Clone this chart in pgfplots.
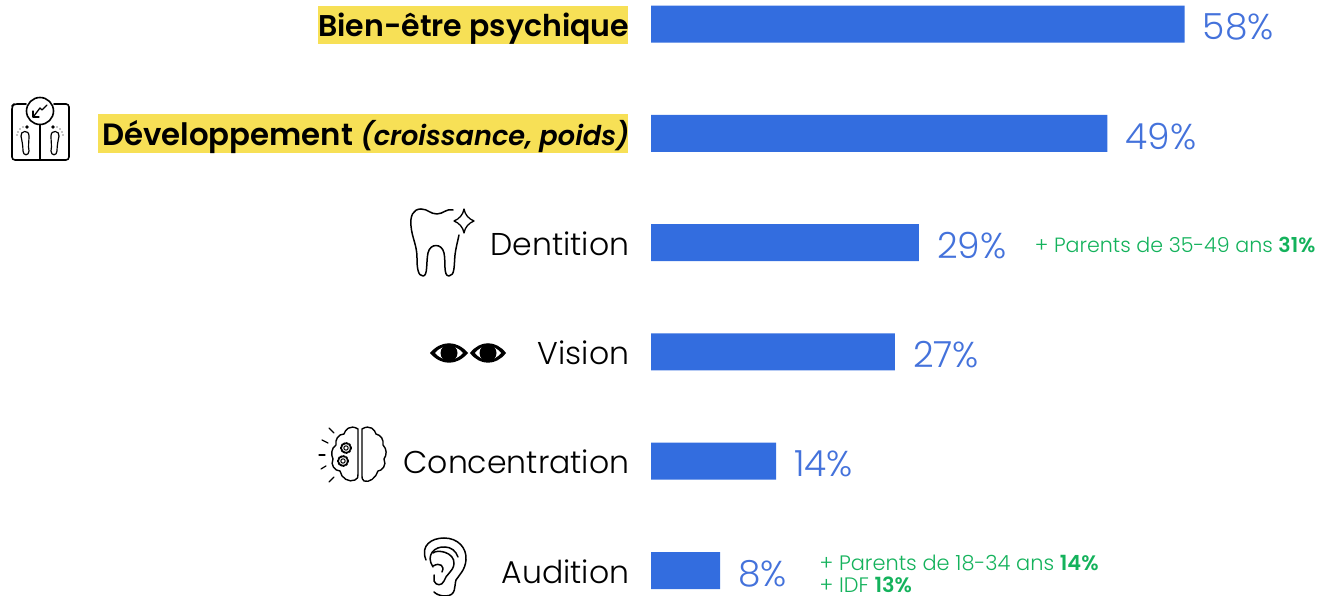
\documentclass[border=0pt]{standalone}
\usepackage{pgfplots}
\usepackage{pgfplotstable}
\usepackage{fontspec}
\pgfplotsset{compat=1.18}
\setmainfont{Poppins Light}[BoldFont={Poppins SemiBold},ItalicFont={Poppins Light Italic},BoldItalicFont={Poppins SemiBold Italic}]
\definecolor{barblue}{HTML}{336DDF}
\definecolor{valblue}{HTML}{4472DB}
\definecolor{hl}{HTML}{F7E056}
\definecolor{grn}{HTML}{14B25C}
\pgfplotstableread{
y x lab
0 58.0 58\%
1 49.6 49\%
2 29.1 29\%
3 26.5 27\%
4 13.6 14\%
5 7.5 8\%
}\bars
\begin{document}
\begin{tikzpicture}[x=1pt,y=1pt]
\useasboundingbox (0,0) rectangle (1319,596);
\begin{scope}[shift={(0,596)},y=-1pt]
\fill[hl] (318,6) rectangle (628,44);
\fill[hl] (98,114) rectangle (628,153);
\end{scope}
\begin{axis}[
  at={(0,0)},anchor=south west,
  scale only axis,width=1319pt,height=596pt,
  xmin=-70.76,xmax=72.6,
  ymin=-0.22,ymax=5.233,y dir=reverse,
  xbar,bar shift=0pt,bar width=37pt,
  axis line style={draw=none},
  xtick=\empty,
  ytick={0,1,2,3,4,5},
  yticklabels={{\fontsize{30}{36}\selectfont\bfseries Bien-être psychique},{\bfseries\fontsize{30.8}{36}\selectfont Développement {\fontsize{27.2}{30}\selectfont\itshape (croissance, poids)}},Dentition,Vision,Concentration,Audition},
  major tick length=0pt,
  y tick style={draw=none},
  yticklabel style={anchor=base east,inner sep=0pt,xshift=629.5pt,yshift=-12.5pt,font=\fontsize{31.5}{36}\selectfont},
  clip=false,
  nodes near coords,
  point meta=explicit symbolic,
  every node near coord/.append style={anchor=west,inner sep=0pt,xshift=18pt,yshift=-3pt,text=valblue,font=\fontsize{36}{42}\selectfont},
]
\addplot[fill=barblue,draw=none] table[x=x,y=y,meta=lab] {\bars};
\node[anchor=west,inner sep=0pt,text=grn,font=\fontsize{20.6}{24}\selectfont] at (axis cs:41.7,2.02) {+ Parents de 35-49 ans \textbf{31\%}};
\node[anchor=west,inner sep=0pt,text=grn,font=\fontsize{20.9}{24}\selectfont] at (axis cs:18.3,4.935) {+ Parents de 18-34 ans \textbf{14\%}};
\node[anchor=west,inner sep=0pt,text=grn,font=\fontsize{20.9}{24}\selectfont] at (axis cs:18.3,5.135) {+ IDF \textbf{13\%}};
\end{axis}
\begin{scope}[shift={(0,596)},y=-1pt,line cap=round,line join=round]
% scale
\draw[line width=1.6pt,rounded corners=3pt] (26,104) -- (14,104) -- (12,106) -- (12,160) -- (69,160) -- (69,104) -- (54,104);
\draw[line width=1.6pt,fill=white] (40,111) circle (13.5);
\draw[line width=1.6pt] (40,124.5) -- (40,160);
\draw[line width=1.3pt] (47,105) -- (42,110) -- (40,108) -- (34,116);
\draw[line width=1.3pt] (33,111) -- (33,117) -- (39,117);
\draw[line width=1.2pt] (21,136) .. controls (20,131) and (29,129) .. (29,136) .. controls (29,142) and (28,146) .. (29,151) .. controls (29,156) and (23,156) .. (23,151) .. controls (23,146) and (22,141) .. (21,136) -- cycle;
\draw[line width=1.2pt] (59,136) .. controls (60,131) and (51,129) .. (51,136) .. controls (51,142) and (52,146) .. (51,151) .. controls (51,156) and (57,156) .. (57,151) .. controls (57,146) and (58,141) .. (59,136) -- cycle;
\fill (27,127) circle (1.8);\fill (53,127) circle (1.8);
\foreach \p in {(23,127),(20,129),(18,132),(17,135),(57,127),(60,129),(62,132),(63,135)} \fill \p circle (0.7);
% tooth
\draw[line width=1.5pt] (421,209) .. controls (413,209) and (410,216) .. (411,226)
  .. controls (412,238) and (417,245) .. (417,258)
  .. controls (417,268) and (418,276) .. (423,276)
  .. controls (428,276) and (426,262) .. (428,253)
  .. controls (430,243) and (442,243) .. (444,253)
  .. controls (446,262) and (443,276) .. (449,276)
  .. controls (455,276) and (454,265) .. (455,255)
  .. controls (456,247) and (458,240) .. (459,235);
\draw[line width=1.5pt] (421,209) .. controls (428,209) and (430,214) .. (437,214) .. controls (443,214) and (447,208) .. (453,210);
\draw[line width=1.3pt] (464,209) .. controls (465,215) and (469,219) .. (474,221) .. controls (469,223) and (465,227) .. (464,233) .. controls (463,227) and (459,223) .. (454,221) .. controls (459,219) and (463,215) .. (464,209) -- cycle;
% eyes
\foreach \cx/\w in {449/19,488/18}{
  \fill (\cx-\w,353) .. controls (\cx-8,340) and (\cx+8,340) .. (\cx+\w,353) .. controls (\cx+8,366) and (\cx-8,366) .. (\cx-\w,353) -- cycle;
  \fill[white] (\cx-\w+5,353) .. controls (\cx-6,344) and (\cx+6,344) .. (\cx+\w-5,353) .. controls (\cx+6,362) and (\cx-6,362) .. (\cx-\w+5,353) -- cycle;
  \fill (\cx,353) circle (8.5);
}
% brain
\draw[line width=1.4pt] (358,429) .. controls (350,424) and (345,430) .. (344,434) .. controls (338,434) and (335,440) .. (336,445) .. controls (331,448) and (331,455) .. (333,459) .. controls (330,465) and (335,471) .. (340,471) .. controls (341,478) and (349,483) .. (355,480) .. controls (358,479) and (358,477) .. (358,474) -- cycle;
\draw[line width=1.4pt] (362,429) .. controls (370,424) and (375,430) .. (376,434) .. controls (381,435) and (384,440) .. (383,445) .. controls (387,449) and (387,455) .. (384,459) .. controls (387,465) and (382,471) .. (378,471) .. controls (376,478) and (369,483) .. (364,481) .. controls (362,480) and (362,478) .. (362,474) -- cycle;
\draw[line width=2pt,dash pattern=on 1.8pt off 1.1pt] (346,448) circle (5);
\draw[line width=2pt,dash pattern=on 1.8pt off 1.1pt] (343,461) circle (5);
\draw[line width=1pt] (346,448) circle (2.2);\draw[line width=1pt] (343,461) circle (2.2);
\draw[line width=1.2pt] (329,428) -- (334,433);
\draw[line width=1.2pt] (322,440) -- (328,443);
\draw[line width=1.2pt] (319,455) -- (325,455);
\draw[line width=1.2pt] (321,469) -- (326,466);
\draw[line width=1.2pt] (329,482) -- (334,477);
% ear
\draw[line width=1.5pt] (426,560) .. controls (420,545) and (432,538) .. (444,538) .. controls (458,538) and (467,548) .. (466,560) .. controls (465,570) and (460,574) .. (456,580) .. controls (454,586) and (457,596) .. (445,596) .. controls (440,596) and (436,594) .. (434,592);
\draw[line width=1.5pt] (433,567) .. controls (425,555) and (435,546) .. (445,547) .. controls (451,547) and (456,551) .. (458,557);
\draw[line width=1.5pt] (433,553) .. controls (437,549) and (455,552) .. (454,564) .. controls (453,572) and (446,574) .. (444,581) .. controls (442,586) and (436,586) .. (434,581) -- (434,575);
\draw[line width=1.5pt] (433,566) .. controls (440,562) and (445,566) .. (442,572);
\end{scope}
\end{tikzpicture}
\end{document}
